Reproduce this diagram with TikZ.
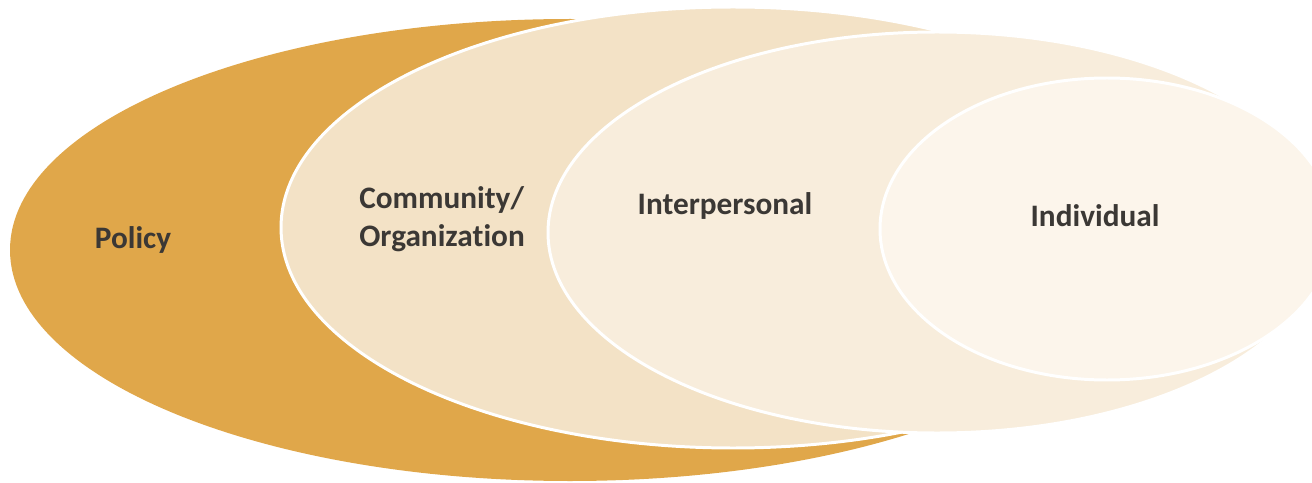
\documentclass[tikz,border=0pt]{standalone}
\usepackage{fontspec}
\setmainfont{Carlito}[RawFeature=-liga]
\usepackage{tikz}
\definecolor{policygold}{HTML}{E0A74A}
\definecolor{communitytan}{HTML}{F3E2C6}
\definecolor{personaltan}{HTML}{F8EDDC}
\definecolor{individualtan}{HTML}{FCF5EB}
\definecolor{labelgray}{HTML}{3B3835}
\tikzset{
	level/.style={draw=white, line width=1.7pt},
	levellabel/.style={text=labelgray, font=\fontsize{17.8}{21.5}\selectfont\bfseries, inner sep=0pt}
}

\begin{document}
\begin{tikzpicture}[x=0.02cm, y=-0.02cm]
			%%%%% START %%%%%
			
			\useasboundingbox (0, 0) rectangle (1312, 483);
			\clip (0, 0) rectangle (1312, 483);
			
			\fill[policygold] (570, 250) ellipse (560 and 231);
			\draw[level, fill=communitytan] (733, 227.5) ellipse (452 and 220.5);
			\draw[level, fill=personaltan] (937, 232.5) ellipse (389 and 200.5);
			\draw[level, fill=individualtan] (1107, 229) ellipse (227 and 151);
			
			\node[levellabel] (policy) at (133, 240) {Policy};
			\node[levellabel, align=left, anchor=west] (community) at (359, 219) {Community/\\Organization};
			\node[levellabel] (interpersonal) at (725, 206) {Interpersonal};
			\node[levellabel] (individual) at (1095, 216) {Individual};
			
			%%%%% END %%%%%
		\end{tikzpicture}
\end{document}
